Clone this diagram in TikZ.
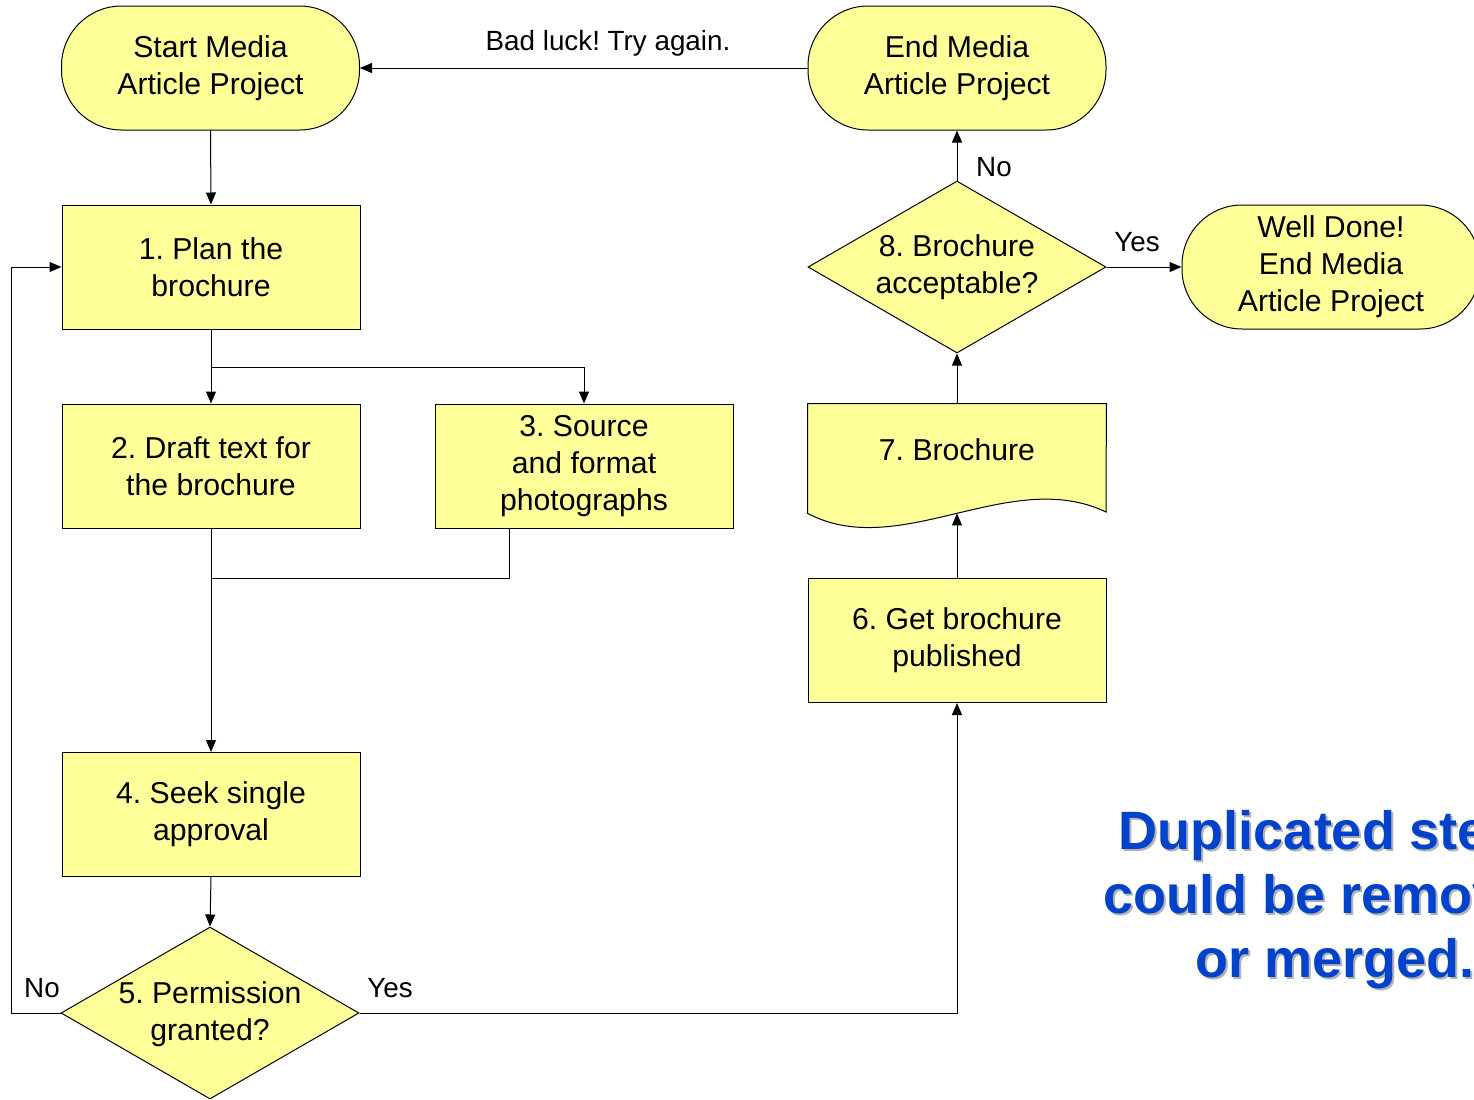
\documentclass[tikz,border=0pt]{standalone}
\usepackage{fontspec}
\setmainfont{Liberation Sans}
\usetikzlibrary{arrows.meta,shapes.geometric}
\definecolor{flowfill}{RGB}{255,255,153}
\definecolor{noteblue}{RGB}{0,66,204}
\frenchspacing
\begin{document}
\begin{tikzpicture}[x=0.5pt,y=-0.5pt,
  every node/.style={font=\fontsize{15.1}{18.5}\selectfont},
  proc/.style={draw,fill=flowfill,line width=0.5pt,minimum width=149pt,minimum height=62pt,inner sep=0pt,align=center},
  term/.style={proc,rounded corners=30pt},
  dec/.style={draw,fill=flowfill,line width=0.5pt,diamond,minimum width=149pt,minimum height=86pt,inner sep=0pt},
  txt/.style={align=center,inner sep=0pt},
  lbl/.style={font=\fontsize{13.9}{16}\selectfont,inner sep=0pt},
  conn/.style={line width=0.5pt},
  arr/.style={conn,-{Triangle[length=6pt,width=5pt]}}]
\useasboundingbox (0,0) rectangle (1474,1099);
\clip (0,0) rectangle (1474,1099);

% terminals
\node[term] (start) at (210.5,68) {Start Media\\Article Project};
\node[term] (endm) at (957,68) {End Media\\Article Project};
\node[term] (done) at (1331,267) {Well Done!\\End Media\\Article Project};

% process boxes
\node[proc] (b1) at (211,267) {1. Plan the\\brochure};
\node[proc] (b2) at (211,466) {2. Draft text for\\the brochure};
\node[proc] (b3) at (584,466) {3. Source\\and format\\photographs};
\node[proc] (b4) at (211,814.5) {4. Seek single\\approval};
\node[proc] (b6) at (957,640.5) {6. Get brochure\\published};

% document shape
\node[inner sep=0pt,minimum width=149pt,minimum height=54.5pt] (doc7) at (957,458.5) {};
\path[draw,fill=flowfill,line width=0.5pt] (doc7.north west) -- (doc7.north east) -- (1106,512)
  .. controls (1010,466) and (900,562) .. (doc7.south west) -- cycle;
\node[txt] (doc7t) at (957,450) {7. Brochure};

% decisions
\node[dec] (d5) at (210,1013) {};
\node[txt] at (210,1014) {5. Permission\\granted?};
\node[dec] (d8) at (957,267) {};
\node[txt] at (957,267) {8. Brochure\\acceptable?};

% connectors
\draw[arr] (start.south) -- (b1.north);
\draw[arr] (b1.south) -- (b2.north);
\draw[arr] (b1.south |- 0,367) -| (b3.north);
\draw[conn] (b3.south) ++(-75,0) |- (b2.south |- 0,578);
\draw[arr] (b2.south) -- (b4.north);
\draw[arr] (b4.south) -- (d5.north);
\draw[arr] (d5.west) -- (11,1013) |- (b1.west);
\draw[arr] (d5.east) -| (b6.south);
\draw[arr] (b6.north) -- (doc7.south);
\draw[arr] (doc7.north) -- (d8.south);
\draw[arr] (d8.north) -- (endm.south);
\draw[arr] (d8.east) -- (done.west);
\draw[arr] (endm.west) -- (start.east);

% connector labels
\node[lbl] at (608,43) {Bad luck! Try again.};
\node[lbl] at (994,167) {No};
\node[lbl] at (1137,242) {Yes};
\node[lbl] at (42,988) {No};
\node[lbl] at (390,988) {Yes};

% side note
\node[txt,font=\fontsize{27}{32}\selectfont\bfseries,text=black!30] at (1337,902) {Duplicated steps\\could be removed\\or merged.};
\node[txt,font=\fontsize{27}{32}\selectfont\bfseries,text=noteblue] at (1335,900) {Duplicated steps\\could be removed\\or merged.};
\end{tikzpicture}
\end{document}
